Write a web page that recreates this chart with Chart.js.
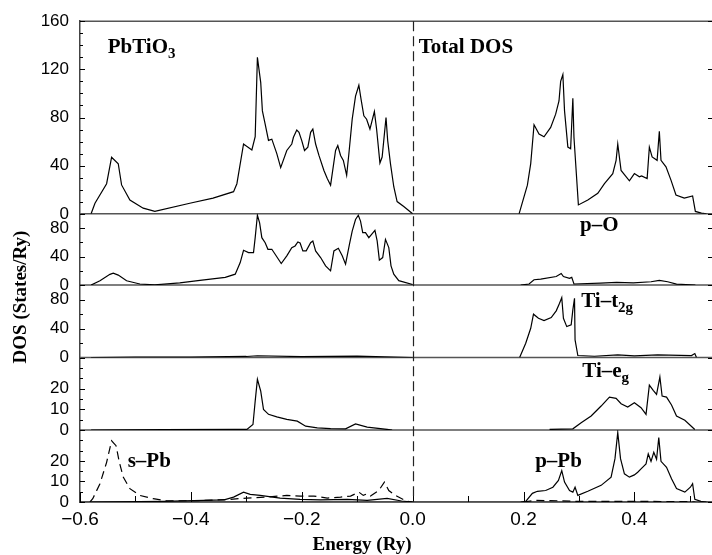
<!DOCTYPE html>
<html lang="en">
<head>
<meta charset="UTF-8">
<title>PbTiO3 density of states</title>
<script src="https://cdn.jsdelivr.net/npm/chart.js"></script>
<style>
  html, body { margin: 0; padding: 0; background: #fff; }
  canvas { display: block; }
</style>
</head>
<body>
<canvas id="dosChart" width="712" height="555"></canvas>
<script>
// Energies in Ry, DOS in States/Ry (null = gap between bands)
const totalE = [-0.580, -0.573, -0.552, -0.543, -0.531, -0.525, -0.510, -0.486, -0.465, -0.400, -0.360, -0.323, -0.317, -0.305, -0.290, -0.284, -0.280, -0.274, -0.271, -0.266, -0.260, -0.254, -0.245, -0.238, -0.227, -0.218, -0.215, -0.209, -0.205, -0.200, -0.195, -0.189, -0.184, -0.180, -0.175, -0.169, -0.160, -0.154, -0.148, -0.139, -0.135, -0.130, -0.125, -0.119, -0.115, -0.109, -0.103, -0.097, -0.093, -0.088, -0.083, -0.077, -0.069, -0.065, -0.059, -0.055, -0.048, -0.045, -0.040, -0.034, -0.028, -0.016, 0.000,
  0.100, 0.192, 0.207, 0.213, 0.219, 0.228, 0.237, 0.249, 0.258, 0.264, 0.267, 0.271, 0.274, 0.280, 0.285, 0.289, 0.291, 0.299, 0.316, 0.334, 0.346, 0.361, 0.367, 0.370, 0.376, 0.391, 0.400, 0.409, 0.413, 0.423, 0.427, 0.432, 0.441, 0.445, 0.448, 0.457, 0.466, 0.475, 0.490, 0.505, 0.510, 0.521, 0.530];
const totalDos = [0, 8.8, 25, 47, 41.6, 24, 11.5, 4.7, 2, 9, 13, 18.4, 25, 58, 53, 64, 130, 109, 85.5, 74.5, 61, 62, 50, 38.4, 52.6, 58, 63.6, 69.6, 67.7, 60.8, 52.6, 55.4, 67.7, 70.4, 58, 48.5, 36, 29.3, 23.8, 52.6, 56.7, 48.5, 44.4, 32, 49.9, 78.6, 97.8, 106.8, 95, 81.4, 78.6, 70.4, 85, 70.4, 42.2, 47.2, 80, 60.8, 41.7, 22.5, 10.2, 6, 0,
  null, 0, 23.8, 41.7, 74, 66.3, 64, 71.8, 82.8, 93.7, 110, 115.6, 85.5, 55.4, 54, 96, 63.6, 7.4, 11.5, 17, 25, 33.4, 44.4, 58, 36, 27.4, 33.4, 30.7, 31.5, 29.3, 55.4, 47.2, 44.4, 68.5, 44.4, 39, 28, 15.6, 13, 14.8, 2, 0.6, 0];

const oE = [-0.580, -0.564, -0.546, -0.540, -0.531, -0.516, -0.492, -0.465, -0.420, -0.380, -0.338, -0.320, -0.311, -0.305, -0.296, -0.287, -0.284, -0.280, -0.276, -0.272, -0.266, -0.261, -0.254, -0.248, -0.237, -0.227, -0.218, -0.212, -0.207, -0.203, -0.198, -0.192, -0.184, -0.180, -0.175, -0.166, -0.157, -0.148, -0.142, -0.134, -0.127, -0.121, -0.114, -0.109, -0.103, -0.098, -0.094, -0.090, -0.085, -0.079, -0.074, -0.068, -0.064, -0.060, -0.054, -0.049, -0.043, -0.039, -0.034, -0.025, 0.000,
  0.100, 0.195, 0.210, 0.219, 0.231, 0.259, 0.268, 0.272, 0.283, 0.287, 0.291, 0.339, 0.368, 0.398, 0.430, 0.445, 0.460, 0.476, 0.510];
const oDos = [0, 6, 15, 16.7, 14, 6, 1.5, 0.3, 3, 7, 10.7, 15.3, 31.6, 48.8, 45.6, 45.6, 66.5, 98, 87.4, 66.5, 59.5, 50.2, 50.2, 43.2, 30.2, 41, 52.5, 54.9, 60.5, 59, 48, 48, 59.5, 61.9, 48, 38.6, 27, 20, 48, 51.6, 41, 29.3, 57.2, 75.8, 92, 98, 89.8, 73.5, 73.5, 66.5, 71.1, 76.7, 61.9, 34.9, 38.6, 64.1, 52.5, 27, 15.3, 6.1, 0.8,
  null, 0, 1.4, 7.5, 8.4, 12, 16.3, 12, 9.3, 10.7, 1.5, 2.8, 3.7, 3, 4.6, 6.5, 4.6, 1.4, 0];

const t2gE = [-0.580, -0.500, -0.400, -0.300, -0.280, -0.200, -0.100, -0.050, 0.000,
  0.100, 0.193, 0.204, 0.213, 0.218, 0.227, 0.237, 0.250, 0.259, 0.265, 0.269, 0.272, 0.278, 0.286, 0.289, 0.292, 0.293, 0.298, 0.328, 0.370, 0.400, 0.442, 0.503, 0.509, 0.512];
const t2gDos = [0, 0.8, 0.5, 1.5, 2.5, 1.2, 2, 1, 0,
  null, 0, 19.8, 40.4, 59.8, 54.2, 51, 55.2, 64.4, 74.9, 82.7, 54.2, 42.7, 45, 65.8, 81.8, 24.4, 2.8, 1.8, 3.7, 2.3, 3.7, 2.8, 5.5, 0];

const egE = [-0.580, -0.450, -0.320, -0.299, -0.288, -0.284, -0.280, -0.274, -0.269, -0.260, -0.245, -0.227, -0.208, -0.193, -0.172, -0.148, -0.121, -0.103, -0.082, -0.046, -0.037,
  0.100, 0.247, 0.289, 0.304, 0.322, 0.340, 0.355, 0.367, 0.376, 0.388, 0.400, 0.412, 0.421, 0.427, 0.434, 0.440, 0.446, 0.450, 0.458, 0.467, 0.476, 0.491, 0.509];
const egDos = [0, 0.2, 0.3, 0.3, 2.7, 14, 24.5, 18.8, 10, 7.6, 6.4, 5.2, 4.3, 1.9, 1.1, 0.7, 0.6, 3, 1.4, 0.3, 0,
  null, 0.3, 0.6, 3.5, 6.8, 11.6, 15.9, 15.3, 12.7, 11.1, 13.2, 10.8, 7.6, 21.7, 19.2, 17.2, 25.6, 16.4, 15.9, 12.1, 6.8, 4.7, 0.3];

const sPbE = [-0.582, -0.577, -0.564, -0.552, -0.543, -0.535, -0.529, -0.522, -0.510, -0.492, -0.468, -0.444, -0.389, -0.329, -0.299, -0.263, -0.227, -0.203, -0.178, -0.154, -0.130, -0.112, -0.097, -0.089, -0.082, -0.076, -0.061, -0.051, -0.043, -0.031, -0.010, 0.000,
  0.100, 0.200, 0.220, 0.260, 0.300, 0.400, 0.500, 0.510];
const sPbDos = [0, 1.6, 8.9, 19.3, 29.8, 27.4, 19.3, 12.1, 6.5, 3.2, 1.6, 0.6, 0.6, 1.3, 1.9, 2.4, 3.2, 2.9, 2.9, 1.9, 2.4, 2.9, 4.8, 3.2, 4, 2.9, 5.6, 9.7, 5.6, 3.2, 0.3, 0,
  null, 0, 0.8, 0.6, 0.3, 0.3, 0.2, 0];

const pPbE = [-0.580, -0.450, -0.340, -0.323, -0.305, -0.293, -0.275, -0.239, -0.203, -0.166, -0.118, -0.082, -0.046, -0.020, 0.000,
  0.100, 0.195, 0.204, 0.216, 0.225, 0.240, 0.253, 0.263, 0.269, 0.274, 0.283, 0.289, 0.293, 0.298, 0.316, 0.340, 0.358, 0.365, 0.370, 0.375, 0.382, 0.391, 0.400, 0.406, 0.412, 0.421, 0.425, 0.430, 0.435, 0.440, 0.444, 0.448, 0.458, 0.467, 0.476, 0.491, 0.501, 0.505, 0.509, 0.520, 0.530];
const pPbDos = [0, 0.3, 1, 2.4, 4.8, 3.7, 3.2, 1.9, 1.3, 1, 1.3, 0.8, 1.8, 0.5, 0,
  null, 0, 0.3, 4.2, 5.2, 5.6, 7.2, 10.5, 15.3, 9.7, 5.6, 4.8, 7.2, 3.2, 5.2, 8.1, 12.1, 21.1, 33.8, 21.1, 13.7, 12.1, 13.2, 14.5, 16.1, 18.5, 23.4, 19.8, 24.2, 20.8, 31.4, 19.8, 16.9, 11.3, 6.5, 4.8, 7.2, 8.9, 1.3, 0.3, 0];

// axis ticks
const xTicks = [-0.6, -0.5, -0.4, -0.3, -0.2, -0.1, 0, 0.1, 0.2, 0.3, 0.4, 0.5];
const xTickLabels = ['\u22120.6', '', '\u22120.4', '', '\u22120.2', '', '0.0', '', '0.2', '', '0.4', ''];
const panelIds = ['yTot', 'yO', 'yT2g', 'yEg', 'yPb'];
const panelMax = [160, 100, 100, 35, 35];
const panelStep = [10, 20, 20, 5, 5];
const panelTickLabels = [[0, 40, 80, 120, 160], [0, 40, 80], [0, 40, 80], [0, 10, 20], [0, 10, 20]];

// layout of the stacked panels (pixel heights used as stack weights)
const panelHeights = [194.7, 72, 73.3, 73.3, 72.7];

function pairs(xs, ys) {
  return xs.map((x, i) => ({ x: x, y: ys[i] }));
}

const tickFont = { family: 'Liberation Sans', size: 17 };
const scales = {
  x: {
    type: 'linear',
    min: -0.6,
    max: 0.54,
    afterBuildTicks: s => { s.ticks = xTicks.map(v => ({ value: v })); },
    afterFit: s => { s.height = 53; },
    grid: { display: false, drawTicks: false },
    border: { display: true, color: '#444', width: 1.5 },
    ticks: {
      autoSkip: false,
      maxRotation: 0,
      padding: 6,
      color: '#000',
      font: { family: 'Liberation Sans', size: 19 },
      callback: v => xTickLabels[xTicks.indexOf(v)] || ''
    }
  }
};
panelIds.forEach((id, i) => {
  scales[id] = {
    type: 'linear',
    position: 'left',
    stack: 'dos',
    stackWeight: panelHeights[i],
    weight: panelIds.length - i,
    min: 0,
    max: panelMax[i],
    afterFit: s => { s.width = 80; },
    grid: { display: false, drawTicks: false },
    border: { display: true, color: '#444', width: 1.5 },
    ticks: {
      stepSize: panelStep[i],
      autoSkip: false,
      padding: 11,
      color: '#000',
      font: tickFont,
      callback: v => panelTickLabels[i].includes(v) ? String(v) : ''
    }
  };
});

// panel names, placed in data coordinates of their own panel
const panelNames = [
  { axis: 'yTot', x: -0.550, y: 133.7, parts: [['PbTiO', false], ['3', true]] },
  { axis: 'yTot', x: 0.011, y: 133.7, parts: [['Total DOS', false]] },
  { axis: 'yO', x: 0.302, y: 76, parts: [['p\u2013O', false]] },
  { axis: 'yT2g', x: 0.304, y: 70, parts: [['Ti\u2013t', false], ['2g', true]] },
  { axis: 'yEg', x: 0.306, y: 25.6, parts: [['Ti\u2013e', false], ['g', true]] },
  { axis: 'yPb', x: -0.514, y: 16.8, parts: [['s\u2013Pb', false]] },
  { axis: 'yPb', x: 0.221, y: 16.8, parts: [['p\u2013Pb', false]] }
];

function seg(ctx, x1, y1, x2, y2) {
  ctx.beginPath();
  ctx.moveTo(x1, y1);
  ctx.lineTo(x2, y2);
  ctx.stroke();
}

const decorPlugin = {
  id: 'decor',
  beforeDatasetsDraw(chart) {
    const { ctx, chartArea: a, scales: sc } = chart;
    ctx.save();
    // panel separators and top frame
    ctx.strokeStyle = '#555';
    ctx.lineWidth = 1.5;
    panelIds.forEach(id => {
      const y = sc[id].getPixelForValue(0);
      seg(ctx, a.left, y, a.right, y);
    });
    const yTop = sc.yTot.getPixelForValue(panelMax[0]);
    seg(ctx, a.left, yTop, a.right, yTop);

    // inward ticks on the y axes
    ctx.strokeStyle = '#000';
    ctx.lineWidth = 1;
    panelIds.forEach(id => {
      const s = sc[id];
      s.ticks.forEach(t => {
        const y = Math.round(s.getPixelForValue(t.value)) + 0.5;
        const major = t.label !== '';
        seg(ctx, a.left, y, a.left + (major ? 5 : 3), y);
        if (major) seg(ctx, a.right - 4, y, a.right, y);
      });
    });
    // inward ticks on the energy axis
    sc.x.ticks.forEach(t => {
      const x = Math.round(sc.x.getPixelForValue(t.value)) + 0.5;
      seg(ctx, x, a.bottom, x, a.bottom - (t.label ? 10 : 6));
    });

    // Fermi level
    const x0 = Math.round(sc.x.getPixelForValue(0)) + 0.5;
    ctx.strokeStyle = '#222';
    ctx.lineWidth = 1.2;
    ctx.setLineDash([10, 5]);
    seg(ctx, x0, a.top, x0, a.bottom);
    ctx.restore();
  },
  afterDatasetsDraw(chart) {
    const { ctx, chartArea: a, scales: sc } = chart;
    ctx.save();
    ctx.fillStyle = '#000';
    ctx.textBaseline = 'alphabetic';
    ctx.textAlign = 'left';
    panelNames.forEach(n => {
      let x = sc.x.getPixelForValue(n.x);
      const y = sc[n.axis].getPixelForValue(n.y);
      n.parts.forEach(([txt, sub]) => {
        ctx.font = sub ? 'bold 15px "Liberation Serif"' : 'bold 21px "Liberation Serif"';
        ctx.fillText(txt, x, sub ? y + 5 : y);
        x += ctx.measureText(txt).width;
      });
    });

    // axis titles
    ctx.font = 'bold 19px "Liberation Serif"';
    ctx.textAlign = 'center';
    ctx.fillText('Energy (Ry)', 362, 550);
    ctx.translate(26, 297);
    ctx.rotate(-Math.PI / 2);
    ctx.fillText('DOS (States/Ry)', 0, 0);
    ctx.restore();
  }
};

const lineStyle = { showLine: true, pointRadius: 0, borderColor: '#000', borderWidth: 1.2, tension: 0, spanGaps: false };

new Chart(document.getElementById('dosChart').getContext('2d'), {
  type: 'scatter',
  data: {
    datasets: [
      { label: 'Total DOS', data: pairs(totalE, totalDos), yAxisID: 'yTot', ...lineStyle },
      { label: 'p-O', data: pairs(oE, oDos), yAxisID: 'yO', ...lineStyle },
      { label: 'Ti-t2g', data: pairs(t2gE, t2gDos), yAxisID: 'yT2g', ...lineStyle },
      { label: 'Ti-eg', data: pairs(egE, egDos), yAxisID: 'yEg', ...lineStyle },
      { label: 'p-Pb', data: pairs(pPbE, pPbDos), yAxisID: 'yPb', ...lineStyle },
      { label: 's-Pb', data: pairs(sPbE, sPbDos), yAxisID: 'yPb', ...lineStyle, borderDash: [8, 5] }
    ]
  },
  options: {
    responsive: false,
    animation: false,
    devicePixelRatio: 1,
    layout: { padding: { top: 16, left: 0, right: 0, bottom: 0 } },
    plugins: { legend: { display: false }, tooltip: { enabled: false } },
    scales: scales
  },
  plugins: [decorPlugin]
});
</script>
</body>
</html>
